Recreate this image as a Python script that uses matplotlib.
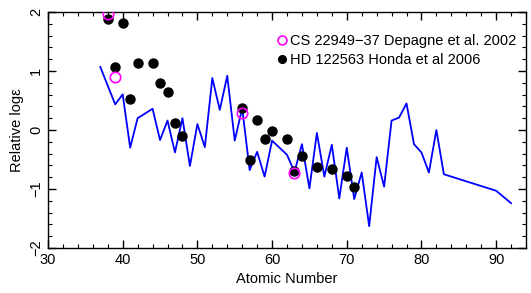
import numpy as np
import matplotlib.pyplot as plt
from matplotlib.ticker import MultipleLocator

plt.rcParams['font.family'] = ['Liberation Sans', 'DejaVu Sans']

# solar r-process pattern (blue line)
z_sol = [37, 38, 39, 40, 41, 42, 44, 45, 46, 47, 48, 49, 50, 51, 52, 53, 54, 55, 56,
         57, 58, 59, 60, 62, 63, 64, 65, 66, 67, 68, 69, 70, 71, 72, 73, 74, 75, 76,
         77, 78, 79, 80, 81, 82, 83, 90, 92]
v_sol = [1.07, 0.75, 0.435, 0.605, -0.30, 0.20, 0.36, -0.17, 0.16, -0.38, 0.20, -0.61,
         0.10, -0.29, 0.88, 0.34, 0.92, -0.18, 0.37, -0.68, -0.37, -0.79, -0.18, -0.42,
         -0.71, -0.24, -0.99, -0.05, -0.79, -0.25, -1.16, -0.30, -1.17, -0.72, -1.63,
         -0.46, -0.96, 0.16, 0.21, 0.45, -0.24, -0.38, -0.72, 0.00, -0.75, -1.03, -1.24]

# CS 22949-37 (Depagne et al. 2002)
z_cs = [38, 39, 56, 63]
v_cs = [1.97, 0.89, 0.28, -0.73]

# HD 122563 (Honda et al 2006)
z_hd = [38, 39, 40, 41, 42, 44, 45, 46, 47, 48, 56, 57, 58, 59, 60, 62, 63, 64, 66, 68, 70, 71]
v_hd = [1.88, 1.07, 1.82, 0.52, 1.13, 1.14, 0.80, 0.64, 0.12, -0.10, 0.38, -0.50, 0.17,
        -0.15, -0.01, -0.16, -0.70, -0.44, -0.62, -0.66, -0.78, -0.96]

fig = plt.figure(figsize=(5.31, 2.93), dpi=100)
ax = fig.add_axes([0.0904, 0.1536, 0.9002, 0.8054])

ax.plot(z_sol, v_sol, color='#0000ff', lw=1.3, zorder=2)
ax.plot(z_cs, v_cs, 'o', mfc='none', mec='#ff00ff', mew=1.2, ms=7.5, zorder=3,
        label='CS 22949\u221237 Depagne et al. 2002')
ax.plot(z_hd, v_hd, 'o', color='black', ms=6.5, zorder=2,
        label='HD 122563 Honda et al 2006')

ax.set_xlim(30, 94)
ax.set_ylim(-2, 2)
ax.xaxis.set_major_locator(MultipleLocator(10))
ax.xaxis.set_minor_locator(MultipleLocator(2))
ax.yaxis.set_major_locator(MultipleLocator(1))
ax.yaxis.set_minor_locator(MultipleLocator(0.2))
ax.tick_params(which='both', direction='in', top=True, right=True, labelsize=10.5)
ax.tick_params(which='major', length=6, width=1)
ax.tick_params(which='minor', length=3, width=0.8)
for lab in ax.get_yticklabels():
    lab.set_rotation(90)
    lab.set_va('center')
for sp in ax.spines.values():
    sp.set_linewidth(1)

ax.set_xlabel('Atomic Number', fontsize=10.5)
ax.set_ylabel('Relative log\u03b5', fontsize=10.5)

ax.legend(loc='upper right', bbox_to_anchor=(1.0, 0.95), frameon=False, fontsize=10.5,
          handletextpad=-0.1, borderaxespad=0.3, labelspacing=0.35, handlelength=1.2,
          markerscale=0.85)

fig.savefig('out.png', dpi=100)
